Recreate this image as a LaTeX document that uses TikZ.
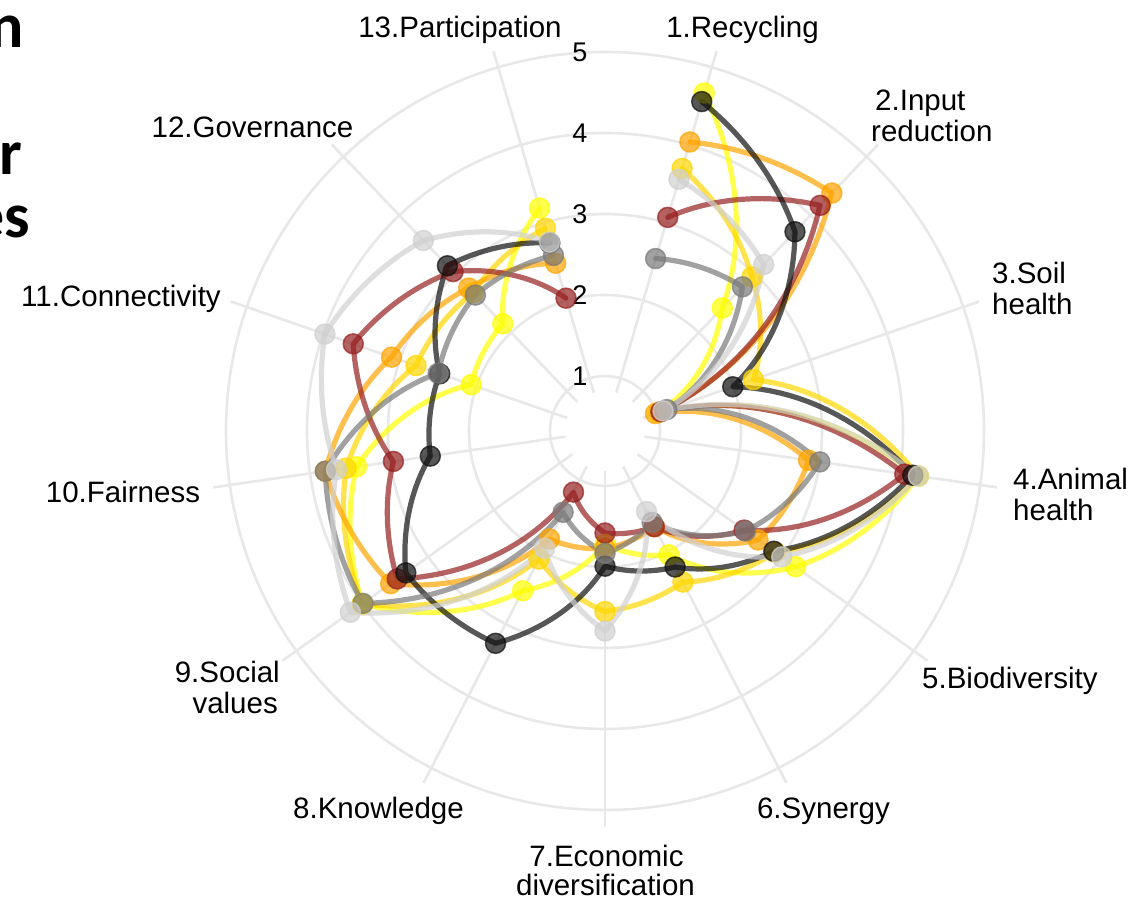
\documentclass[tikz,border=0pt]{standalone}
\usepackage{fontspec}
\setmainfont{Liberation Sans}
\newfontfamily\sidefont{Carlito}
\definecolor{gridc}{RGB}{232,232,232}
\definecolor{cyel}{HTML}{FFFF00}
\definecolor{cgold}{HTML}{FFD700}
\definecolor{corange}{HTML}{FFA500}
\definecolor{cred}{HTML}{962020}
\definecolor{cblack}{HTML}{101010}
\definecolor{cgray}{HTML}{7A7A7A}
\definecolor{clgray}{HTML}{D0D0D0}
\newcommand\radarpath[2]{%
  \def\A{{#2}}%
  \draw[serie, draw=#1] plot[variable=\t, domain=0:12, samples=241]
    ({90-(\t+0.6)*27.272727}:{81*(\A[int(min(\t,11.999))]+(\A[int(min(\t,11.999))+1]-\A[int(min(\t,11.999))])*(\t-int(min(\t,11.999))))-26});
}
\newcommand\radardots[3]{%
  \foreach \v [count=\k from 0] in {#3}
    \node[dot, draw=#2, fill=#2] (#1\k) at ({90-(\k+0.6)*27.272727}:{81*\v-26}) {};
}
\begin{document}
\begin{tikzpicture}[x=1pt,y=1pt,
  gridline/.style={draw=gridc, line width=2.6pt},
  serie/.style={line width=5.2pt, line join=round, line cap=round, draw opacity=0.7},
  dot/.style={circle, inner sep=0pt, minimum size=20pt, line width=1.5pt, fill opacity=0.7, draw opacity=0.7},
  axlab/.style={font=\fontsize{29.5}{31}\selectfont, inner sep=0pt, text=black},
  rlab/.style={font=\fontsize{27}{30}\selectfont, inner sep=0pt, text=black},
  side/.style={font=\sidefont\bfseries\fontsize{64}{64}\selectfont, inner sep=0pt, text=black}]
\useasboundingbox (-605,-469) rectangle (525,431);
\fill[white] (-605,-469) rectangle (525,431);
% grid
\foreach \r in {55,136,217,298,379} \draw[gridline] (0,0) circle (\r);
\foreach \k in {0,...,12} \draw[gridline] ({90-(\k+0.6)*27.272727}:40) -- ({90-(\k+0.6)*27.272727}:396);
% radial labels
\node[rlab] (r1) at (-25,55) {1};
\node[rlab] (r2) at (-25,136) {2};
\node[rlab] (r3) at (-25,217) {3};
\node[rlab] (r4) at (-25,298) {4};
\node[rlab] (r5) at (-25,379) {5};
% series lines
\radarpath{cyel}{4.67,2.42,1.02,4.23,3.21,2.04,1.72,2.54,4.0,3.42,2.07,2.15,3.19}
\radarpath{cgold}{3.70,2.95,2.26,4.23,2.9,2.42,2.55,2.10,4.0,3.55,2.79,2.68,2.93}
\radarpath{corange}{4.04,4.38,0.98,2.86,2.64,1.65,1.77,1.82,3.57,3.81,3.11,2.76,2.48}
\radarpath{cred}{3.07,4.17,1.05,4.06,2.43,1.65,1.58,1.17,3.47,2.96,3.61,3.04,2.03}
\radarpath{cblack}{4.56,3.72,1.99,4.16,2.88,2.21,1.99,3.27,3.34,2.50,2.48,3.14,2.74}
\radarpath{cgray}{2.54,2.78,1.13,3.00,2.45,1.59,1.83,1.45,3.99,3.81,2.5,2.64,2.58}
\radarpath{clgray}{3.56,3.16,1.08,4.23,3.0,1.44,2.79,1.95,4.18,3.67,3.98,3.57,2.75}
% series points
\radardots{y}{cyel}{4.67,2.42,1.02,4.23,3.21,2.04,1.72,2.54,4.0,3.42,2.07,2.15,3.19}
\radardots{g}{cgold}{3.70,2.95,2.26,4.23,2.9,2.42,2.55,2.10,4.0,3.55,2.79,2.68,2.93}
\radardots{o}{corange}{4.04,4.38,0.98,2.86,2.64,1.65,1.77,1.82,3.57,3.81,3.11,2.76,2.48}
\radardots{r}{cred}{3.07,4.17,1.05,4.06,2.43,1.65,1.58,1.17,3.47,2.96,3.61,3.04,2.03}
\radardots{b}{cblack}{4.56,3.72,1.99,4.16,2.88,2.21,1.99,3.27,3.34,2.50,2.48,3.14,2.74}
\radardots{m}{cgray}{2.54,2.78,1.13,3.00,2.45,1.59,1.83,1.45,3.99,3.81,2.5,2.64,2.58}
\radardots{l}{clgray}{3.56,3.16,1.08,4.23,3.0,1.44,2.79,1.95,4.18,3.67,3.98,3.57,2.75}
% axis labels
\node[axlab, anchor=base] (lab1) at (137.5,393.5) {1.Recycling};
\node[axlab, anchor=base west] (lab2a) at (270,320.5) {2.Input};
\node[axlab, anchor=base west] (lab2b) at (266,289.5) {reduction};
\node[axlab, anchor=base west] (lab3a) at (387,147.5) {3.Soil};
\node[axlab, anchor=base west] (lab3b) at (387,116.5) {health};
\node[axlab, anchor=base west] (lab4a) at (408,-58.5) {4.Animal};
\node[axlab, anchor=base west] (lab4b) at (408,-89.5) {health};
\node[axlab, anchor=base west] (lab5) at (317,-257.5) {5.Biodiversity};
\node[axlab, anchor=base] (lab6) at (218.5,-387.5) {6.Synergy};
\node[axlab, anchor=base] (lab7a) at (1.5,-435.5) {7.Economic};
\node[axlab, anchor=base] (lab7b) at (0.5,-464.5) {diversification};
\node[axlab, anchor=base] (lab8) at (-226.5,-387.5) {8.Knowledge};
\node[axlab, anchor=base east] (lab9a) at (-325,-251.5) {9.Social};
\node[axlab, anchor=base east] (lab9b) at (-327,-282.5) {values};
\node[axlab, anchor=base] (lab10) at (-482,-71.5) {10.Fairness};
\node[axlab, anchor=base] (lab11) at (-484,124.5) {11.Connectivity};
\node[axlab, anchor=base] (lab12) at (-352.5,293.5) {12.Governance};
\node[axlab, anchor=base] (lab13) at (-145,393.5) {13.Participation};
% cut-off side text
\node[side, anchor=base east] (s1) at (-581,383) {n};
\node[side, anchor=base east] (s2) at (-583,256) {r};
\node[side, anchor=base east] (s3) at (-575,193) {es};
\end{tikzpicture}
\end{document}
